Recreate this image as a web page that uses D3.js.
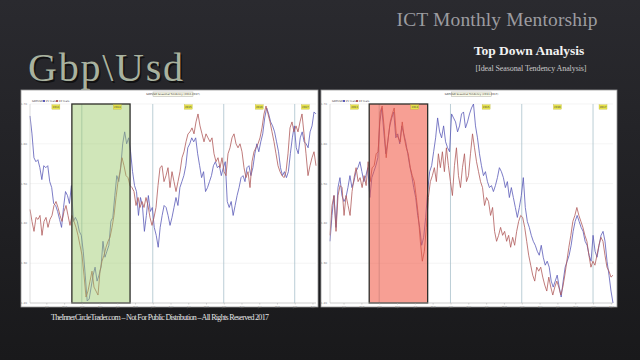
<!DOCTYPE html>
<html>
<head>
<meta charset="utf-8">
<title>Gbp\Usd Seasonal Tendency</title>
<script src="https://d3js.org/d3.v7.min.js"></script>
<style>
  html, body { margin: 0; padding: 0; background: #1e1e21; }
  svg { display: block; }
</style>
</head>
<body>
<svg width="640" height="360" id="slide"></svg>

<script type="text/javascript">
// values are % of the chart's range (0 = bottom, 100 = top)
var leftBlue = [94,85,73,71,72,68,62,69,68,69,61,58,50,49,46,42,38,48,56,54,50,59,41,43,41,36,34,26,14,1,
  2,8,14,18,11,14,18,31,23,26,29,41,43,54,64,61,68,80,86,80,83,76,66,59,56,44,53,49,36,44,
  54,46,48,38,34,28,38,44,49,48,44,39,43,48,53,49,58,61,64,69,78,80,83,81,83,75,69,63,66,56,
  58,61,64,69,71,68,69,64,68,71,51,48,51,44,49,54,58,63,64,61,68,69,64,68,75,80,76,81,85,93,
  98,95,91,89,86,81,76,68,64,66,63,66,75,83,89,78,75,83,86,81,80,78,86,89,96,95];
var leftRed = [47,41,36,43,42,44,34,41,43,38,42,44,49,51,48,44,41,46,49,44,39,44,41,38,34,29,24,14,3,6,
  11,16,8,6,4,16,21,24,28,31,33,38,44,53,61,66,73,69,64,63,59,58,56,49,53,48,51,48,53,49,
  43,39,43,48,59,68,69,61,64,68,58,66,61,56,61,66,73,76,81,85,86,88,85,91,95,89,85,81,85,83,
  81,83,75,71,73,68,73,66,64,75,78,83,85,80,78,80,76,68,63,66,58,71,76,78,80,83,88,95,99,95,
  91,86,81,75,69,66,64,63,66,75,88,91,86,89,86,91,95,85,75,64,69,73,76,69];
var rightBlue = [31,44,54,38,58,63,54,51,53,58,64,58,61,66,68,71,66,61,64,68,53,63,66,69,73,91,98,86,75,81,
  89,93,96,83,85,80,89,85,81,75,69,64,58,53,44,38,29,33,43,56,66,69,76,83,93,86,83,89,81,78,
  76,95,93,91,86,89,95,96,88,91,95,98,100,89,83,75,69,64,66,61,58,59,56,59,63,68,66,63,58,61,
  53,58,53,48,43,48,54,63,48,41,38,34,31,29,26,24,29,23,19,21,18,11,8,11,14,8,3,11,18,21,
  24,29,36,41,44,41,38,36,31,29,24,21,34,26,23,29,34,36,31,21,14,6,0];
var rightRed = [34,49,54,36,54,59,58,44,54,49,44,56,63,68,61,63,58,64,59,71,61,68,69,75,76,96,99,88,73,83,
  91,95,98,85,83,81,91,83,78,75,68,64,61,53,44,31,21,26,38,53,61,64,68,61,75,68,76,66,78,69,
  61,54,69,78,64,58,68,75,61,64,75,85,78,71,66,61,58,49,53,51,44,48,36,31,34,38,34,36,31,34,
  28,33,29,36,41,44,43,38,31,24,19,14,11,18,16,18,13,9,6,13,8,4,8,11,8,4,8,14,21,28,
  34,41,44,48,44,41,38,34,31,24,18,21,19,24,29,33,31,24,18,16,13,14];

// years shown on each panel and the highlighted seasonal window
var yearLabels = ["2013", "2014", "2015", "2016", "2017"];
var yearLines = [2014, 2015, 2016, 2017];
var leftDomain = [2013.27, 2017.30];
var rightDomain = [2013.31, 2017.28];
var boxWindow = [2013.86, 2014.68];
var yTicks = [0, 20, 40, 60, 80, 100];
var yTickLabels = ["1.20", "1.30", "1.40", "1.50", "1.60", "1.70"];
var monthTicks = ["Jan", "Apr", "Jul", "Oct"];

var svg = d3.select("#slide");

// background
var defs = svg.append("defs");
var grad = defs.append("linearGradient").attr("id", "bg").attr("x1", 0).attr("y1", 0).attr("x2", 0).attr("y2", 1);
grad.append("stop").attr("offset", "0%").attr("stop-color", "#2a2a2f");
grad.append("stop").attr("offset", "100%").attr("stop-color", "#19191b");
svg.append("rect").attr("width", 640).attr("height", 360).attr("fill", "url(#bg)");

var serif = "'Liberation Serif', 'DejaVu Serif', serif";

svg.append("text").attr("x", 497).attr("y", 26).attr("text-anchor", "middle")
  .attr("font-family", serif).attr("font-size", 19.5).attr("fill", "#9c9ca0")
  .attr("textLength", 201)
  .text("ICT Monthly Mentorship");
svg.append("text").attr("x", 529).attr("y", 55).attr("text-anchor", "middle")
  .attr("font-family", serif).attr("font-size", 13.5).attr("font-weight", "bold").attr("fill", "#f2f2f2")
  .text("Top Down Analysis");
svg.append("text").attr("x", 531).attr("y", 71).attr("text-anchor", "middle")
  .attr("font-family", serif).attr("font-size", 8).attr("fill", "#c8c8c8")
  .attr("textLength", 111)
  .text("[Ideal Seasonal Tendency Analysis]");
svg.append("text").attr("x", 28).attr("y", 81)
  .attr("font-family", serif).attr("font-size", 40).attr("fill", "#0c0c0c").attr("opacity", 0.8)
  .attr("transform", "translate(1.5,1.5)").attr("textLength", 155)
  .text("Gbp\\Usd");
svg.append("text").attr("x", 28).attr("y", 81)
  .attr("font-family", serif).attr("font-size", 40).attr("fill", "#a9b29f")
  .attr("textLength", 155)
  .text("Gbp\\Usd");
svg.append("text").attr("x", 51).attr("y", 320)
  .attr("font-family", serif).attr("font-size", 8).attr("fill", "#e6e6e6")
  .attr("textLength", 218)
  .text("TheInnerCircleTrader.com \u2013 Not For Public Distribution \u2013 All Rights Reserved 2017");

function drawPanel(cfg) {
  var g = svg.append("g");
  g.append("rect").attr("x", cfg.px).attr("y", 90).attr("width", cfg.pw).attr("height", 217)
    .attr("fill", "#fff").attr("stroke", "#9a9a9a").attr("stroke-width", 0.8);

  var x = d3.scaleLinear().domain(cfg.domain).range([cfg.left, cfg.right]);
  var y = d3.scaleLinear().domain([0, 100]).range([303, 104]);

  // horizontal grid
  g.selectAll(".hgrid").data(yTicks).enter().append("line")
    .attr("x1", cfg.left).attr("x2", cfg.right)
    .attr("y1", function(d){ return y(d); }).attr("y2", function(d){ return y(d); })
    .attr("stroke", "#ececec").attr("stroke-width", 0.6);

  // year separators
  g.selectAll(".vgrid").data(yearLines).enter().append("line")
    .attr("x1", function(d){ return x(d); }).attr("x2", function(d){ return x(d); })
    .attr("y1", 104).attr("y2", 303)
    .attr("stroke", "#a9c2cc").attr("stroke-width", 0.8);

  // series
  cfg.series.forEach(function(s) {
    var sx = d3.scaleLinear().domain([0, s.values.length - 1]).range(cfg.domain);
    var line = d3.line()
      .x(function(d, i){ return x(sx(i)); })
      .y(function(d){ return y(d); });
    g.append("path").attr("d", line(s.values))
      .attr("fill", "none").attr("stroke", s.color).attr("stroke-width", 0.8)
      .attr("stroke-linejoin", "round");
  });

  // seasonal window
  g.append("rect")
    .attr("x", x(boxWindow[0])).attr("y", 104)
    .attr("width", x(boxWindow[1]) - x(boxWindow[0])).attr("height", 199)
    .attr("fill", cfg.boxColor).attr("fill-opacity", cfg.boxOpacity)
    .attr("stroke", "#2e2e2a").attr("stroke-width", 1.3);

  // plot frame axes
  g.append("line").attr("x1", cfg.left).attr("x2", cfg.left).attr("y1", 104).attr("y2", 303)
    .attr("stroke", "#c8c8c8").attr("stroke-width", 0.6);
  g.append("line").attr("x1", cfg.left).attr("x2", cfg.right).attr("y1", 303).attr("y2", 303)
    .attr("stroke", "#b8b8b8").attr("stroke-width", 0.6);

  // y tick labels
  g.selectAll(".ylab").data(yTicks).enter().append("text")
    .attr("x", cfg.left - 3).attr("y", function(d){ return y(d) + 1; })
    .attr("text-anchor", "end").attr("font-family", "DejaVu Sans").attr("font-size", 2.8)
    .attr("fill", "#777")
    .text(function(d, i){ return yTickLabels[i]; });

  // x ticks (quarters)
  var qTicks = [];
  for (var yr = 2013; yr <= 2017; yr++) {
    for (var q = 0; q < 4; q++) {
      var v = yr + q / 4;
      if (v >= cfg.domain[0] && v <= cfg.domain[1]) qTicks.push({v: v, lab: monthTicks[q]});
    }
  }
  var xa = d3.axisBottom(x).tickValues(qTicks.map(function(d){ return d.v; }))
    .tickSize(1.5).tickFormat(function(d, i){ return qTicks[i].lab; });
  var axg = g.append("g").attr("transform", "translate(0,303)").call(xa);
  axg.select(".domain").remove();
  axg.selectAll("line").attr("stroke", "#aaa").attr("stroke-width", 0.5);
  axg.selectAll("text").attr("font-size", 2.8).attr("fill", "#777").attr("dy", "0.3em")
    .attr("font-family", "DejaVu Sans");

  // year labels at the top
  var mids = [cfg.domain[0]].concat(yearLines).concat([cfg.domain[1]]);
  var labs = [];
  for (var k = 0; k < mids.length - 1; k++) labs.push({x: (mids[k] + mids[k + 1]) / 2, t: yearLabels[k]});
  var lg = g.selectAll(".ylabel").data(labs).enter().append("g")
    .attr("transform", function(d){ return "translate(" + x(d.x) + ",107)"; });
  lg.append("rect").attr("x", -4).attr("y", -2.2).attr("width", 8).attr("height", 4.4)
    .attr("fill", "#e6e24a").attr("stroke", "#b8b030").attr("stroke-width", 0.3);
  lg.append("text").attr("text-anchor", "middle").attr("y", 1).attr("font-family", "DejaVu Sans")
    .attr("font-size", 2.6).attr("fill", "#444").text(function(d){ return d.t; });

  // chart title box
  var cx = (cfg.left + cfg.right) / 2;
  g.append("rect").attr("x", cx - 20).attr("y", 92).attr("width", 40).attr("height", 4.5)
    .attr("fill", "#fbfbe8").attr("stroke", "#999").attr("stroke-width", 0.4);
  g.append("text").attr("x", cx).attr("y", 95.3).attr("text-anchor", "middle")
    .attr("font-family", "DejaVu Sans").attr("font-size", 2.6).attr("fill", "#333")
    .text(cfg.title);

  // legend
  var leg = g.append("g").attr("transform", "translate(" + (cfg.left + 2) + ",102)");
  leg.append("text").attr("x", 0).attr("y", 0).attr("font-family", "DejaVu Sans").attr("font-size", 2.6)
    .attr("fill", "#444").text("GBPUSD");
  cfg.series.forEach(function(s, i) {
    leg.append("rect").attr("x", 11 + i * 13).attr("y", -2).attr("width", 2).attr("height", 2).attr("fill", s.color);
    leg.append("text").attr("x", 13.5 + i * 13).attr("y", 0).attr("font-family", "DejaVu Sans").attr("font-size", 2.6)
      .attr("fill", "#444").text(s.name);
  });
}

drawPanel({
  px: 21, pw: 297, left: 30, right: 316, domain: leftDomain,
  boxColor: "#96c864", boxOpacity: 0.45,
  title: "GBPUSD Seasonal Tendency (2013-2017)",
  series: [
    {name: "15 Years", values: leftBlue, color: "#5a5ab8"},
    {name: "10 Years", values: leftRed, color: "#b05a5a"}
  ]
});

drawPanel({
  px: 321, pw: 296, left: 330, right: 613, domain: rightDomain,
  boxColor: "#f0503c", boxOpacity: 0.55,
  title: "GBPUSD Seasonal Tendency (2013-2017)",
  series: [
    {name: "15 Years", values: rightBlue, color: "#5a5ab8"},
    {name: "10 Years", values: rightRed, color: "#b05a5a"}
  ]
});
</script>
</body>
</html>
